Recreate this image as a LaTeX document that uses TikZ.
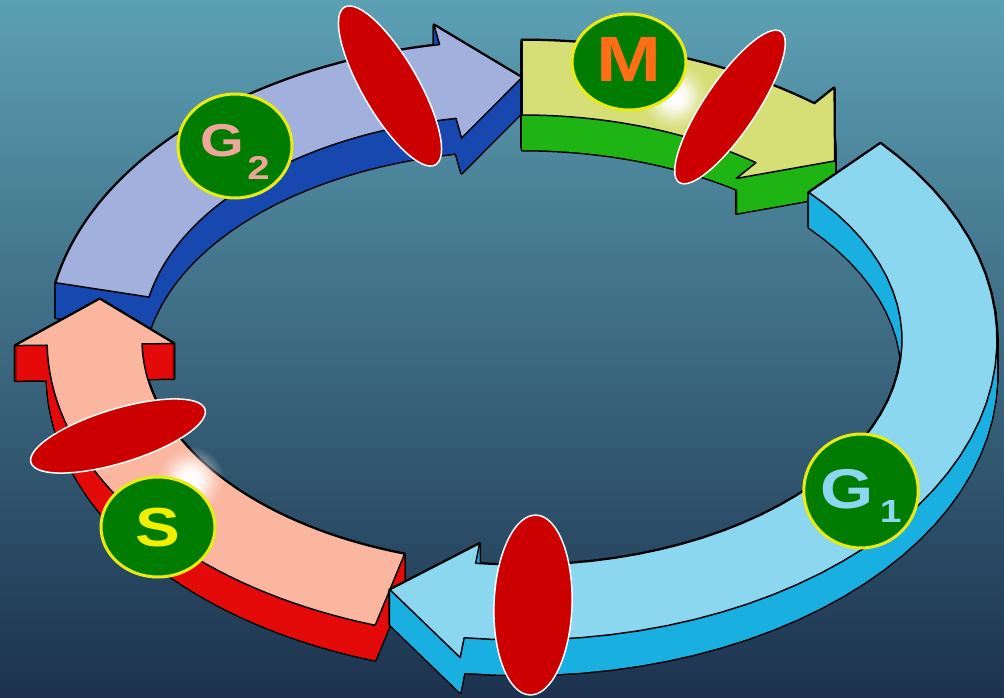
\documentclass[tikz,border=0pt]{standalone}
\usepackage{fontspec}
\setmainfont{Liberation Sans}
\usetikzlibrary{shapes.geometric,fadings}

\definecolor{bgtop}{RGB}{92,160,180}
\definecolor{bgbottom}{RGB}{28,50,78}
\definecolor{gonetop}{RGB}{140,215,240}
\definecolor{goneside}{RGB}{25,175,225}
\definecolor{stop}{RGB}{250,182,158}
\definecolor{sside}{RGB}{228,10,10}
\definecolor{gtwotop}{RGB}{162,176,222}
\definecolor{gtwoside}{RGB}{22,72,175}
\definecolor{mtop}{RGB}{214,222,118}
\definecolor{mside}{RGB}{30,180,20}
\definecolor{ckred}{RGB}{205,0,0}
\definecolor{lblgreen}{RGB}{0,125,0}
\definecolor{lblyellow}{RGB}{235,235,20}
\definecolor{gtwotext}{RGB}{240,165,155}
\definecolor{mtext}{RGB}{255,110,20}
\definecolor{stext}{RGB}{240,240,0}

% soft round glow, opaque in the middle
\tikzfading[name=glow, inner color=transparent!0, outer color=transparent!100]

\newcommand{\rcx}{522}
\newcommand{\rcy}{340}

% band between the outer and inner ellipse, with an arrow head
% #1 tail angle, #2 head base angle, #3 tip angle
\newcommand{\phaseshape}[3]{%
  plot[domain=#1:#2, samples=40] ({\rcx+475*cos(\x)},{\rcy-300*sin(\x)})
  -- ({\rcx+507*cos(#2)},{\rcy-320*sin(#2)})
  -- ({\rcx+427.5*cos(#3)},{\rcy-262.5*sin(#3)})
  -- ({\rcx+348*cos(#2)},{\rcy-205*sin(#2)})
  -- plot[domain=#2:#1, samples=40] ({\rcx+380*cos(\x)},{\rcy-225*sin(\x)})
  -- cycle}

% one phase arrow: wall swept downwards, then the top face
% #4 top colour, #5 wall colour
\newcommand{\phasearrow}[5]{%
  \foreach \d in {0,1,...,35}
    \draw[line width=3pt, line join=round, shift={(0,\d)}] \phaseshape{#1}{#2}{#3};
  \foreach \d in {0,1,...,35}
    \fill[#5, shift={(0,\d)}] \phaseshape{#1}{#2}{#3};
  \filldraw[fill=#4, draw=black, line width=1.5pt, line join=round] \phaseshape{#1}{#2}{#3};
}

% wide bold letters for the labels
\newcommand{\wide}[1]{\scalebox{1.22}[1]{#1}}

\begin{document}
\begin{tikzpicture}[x=1pt, y=-1pt,
    checkpoint/.style={ellipse, fill=ckred, draw=white, line width=1.5pt,
      inner sep=0pt, minimum width=182pt, minimum height=56pt},
    phase/.style={ellipse, fill=lblgreen, draw=lblyellow, line width=3pt,
      inner sep=0pt, font=\bfseries}]

    % Draw the background
    \shade[top color=bgtop, bottom color=bgbottom] (0,0) rectangle (1004,698);
    \useasboundingbox (0,0) rectangle (1004,698);
    \clip (0,0) rectangle (1004,698);

    % Draw the phase arrows around the ring
    \phasearrow{169}{100}{90}{gtwotop}{gtwoside}
    \phasearrow{252}{181}{171}{stop}{sside}
    \phasearrow{90}{52}{43}{mtop}{mside}
    \phasearrow{41}{-97}{-108}{gonetop}{goneside}

    % Draw the glare spots
    \foreach \r in {34,24,16} {
        \fill[white, path fading=glow] (674,96) circle (\r);
        \fill[white, path fading=glow] (190,480) circle (\r);
    }

    % Draw the checkpoints
    \node[checkpoint, rotate=-60] (cpgtwo) at (390,86) {};
    \node[checkpoint, rotate=56, minimum height=52pt] (cpm) at (730,107) {};
    \node[checkpoint, rotate=88, minimum width=180pt, minimum height=78pt] (cpgone) at (533,605) {};
    \node[checkpoint, rotate=17, minimum height=54pt] (cps) at (118,436) {};

    % Label the phases
    \node[phase, minimum width=114pt, minimum height=104pt, text=gtwotext] (gtwo) at (235,146)
        {\smash{\raisebox{-11pt}{\wide{\fontsize{46}{46}\selectfont G\hspace{3pt}\raisebox{-23pt}{\fontsize{33}{33}\selectfont 2}}}}};
    \node[phase, minimum width=114pt, minimum height=96pt, text=mtext] (m) at (629,62)
        {\smash{\raisebox{-20pt}{\wide{\fontsize{64}{64}\selectfont M}}}};
    \node[phase, minimum width=114pt, minimum height=100pt, text=stext] (s) at (158,527)
        {\smash{\raisebox{-19pt}{\wide{\fontsize{55}{55}\selectfont S}}}};
    \node[phase, minimum width=112pt, minimum height=114pt, text=gonetop] (gone) at (861,491)
        {\smash{\raisebox{-17pt}{\wide{\fontsize{56}{56}\selectfont G\hspace{5pt}\raisebox{-14pt}{\fontsize{32}{32}\selectfont 1}}}}};

\end{tikzpicture}
\end{document}
